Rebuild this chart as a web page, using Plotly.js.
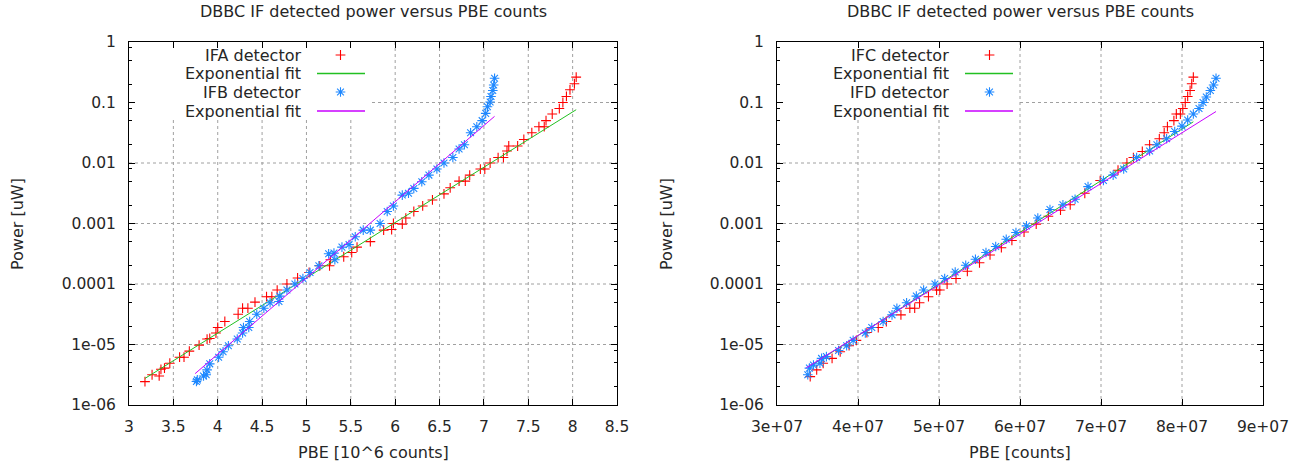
<!DOCTYPE html>
<html><head><meta charset="utf-8">
<script src="https://cdn.plot.ly/plotly-3.0.1.min.js"></script>
<style>html,body{margin:0;padding:0;background:#fff}#chart{width:1306px;height:466px}</style>
</head><body><div id="chart"></div>
<script>
// ---------- data (left plot: PBE in 10^6 counts) ----------
const ifaX = [3.18,3.26,3.34,3.36,3.40,3.46,3.57,3.62,3.68,3.79,3.88,3.91,3.98,4.00,4.08,4.23,4.28,4.34,4.42,4.55,4.61,4.67,4.78,4.90,5.03,5.15,5.26,5.27,5.42,5.51,5.57,5.72,5.87,5.96,5.98,6.08,6.12,6.21,6.31,6.42,6.55,6.62,6.72,6.79,6.84,6.96,7.01,7.07,7.16,7.22,7.26,7.28,7.38,7.45,7.54,7.62,7.68,7.70,7.77,7.85,7.89,7.93,7.97,8.02,8.04];
const ifaY = [2.43e-6,3.16e-6,3.02e-6,3.89e-6,4.07e-6,4.90e-6,6.17e-6,6.17e-6,7.76e-6,9.77e-6,1.23e-5,1.26e-5,1.55e-5,1.91e-5,2.40e-5,3.16e-5,3.98e-5,3.98e-5,5.01e-5,6.17e-5,6.17e-5,7.94e-5,1.0e-4,1.26e-4,1.55e-4,2.0e-4,2.0e-4,2.51e-4,2.82e-4,3.31e-4,4.07e-4,5.01e-4,7.76e-4,7.94e-4,1.0e-3,9.77e-4,1.23e-3,1.58e-3,1.95e-3,2.45e-3,3.09e-3,3.89e-3,5.01e-3,5.01e-3,6.31e-3,7.94e-3,7.94e-3,0.01,0.0123,0.0123,0.0158,0.0191,0.0191,0.0245,0.0316,0.0398,0.0398,0.0501,0.0646,0.0794,0.1,0.126,0.162,0.204,0.263];
const ifaFitX = [3.18, 8.04];
const ifaFitY = [2.75e-6, 0.076];

const ifbX = [3.76,3.77,3.84,3.87,3.88,3.91,4.01,4.06,4.12,4.22,4.28,4.29,4.35,4.36,4.44,4.52,4.59,4.69,4.70,4.78,4.87,4.96,5.04,5.14,5.25,5.32,5.31,5.40,5.48,5.55,5.64,5.72,5.83,5.91,5.98,6.08,6.15,6.21,6.30,6.38,6.47,6.55,6.65,6.72,6.78,6.85,6.92,6.98,7.02,7.04,7.07,7.08,7.10,7.11,7.12];
const ifbY = [2.45e-6,2.6e-6,3.02e-6,3.16e-6,3.80e-6,4.79e-6,6.17e-6,7.59e-6,9.55e-6,1.23e-5,1.55e-5,1.91e-5,1.91e-5,2.40e-5,3.16e-5,3.98e-5,4.90e-5,5.13e-5,6.31e-5,7.94e-5,1.0e-4,1.23e-4,1.55e-4,2.0e-4,3.16e-4,2.51e-4,3.24e-4,4.07e-4,4.47e-4,6.03e-4,7.76e-4,7.76e-4,1.0e-3,1.58e-3,1.95e-3,2.95e-3,3.16e-3,3.80e-3,4.90e-3,6.31e-3,7.94e-3,0.01,0.0123,0.0170,0.0200,0.0316,0.0398,0.0501,0.0661,0.0851,0.102,0.126,0.158,0.195,0.251];
const ifbFitX = [3.745, 7.12];
const ifbFitY = [3.3e-6, 0.059];

// ---------- data (right plot: PBE in counts) ----------
const ifcX = [3.41e7,3.49e7,3.57e7,3.68e7,3.78e7,3.89e7,3.98e7,4.11e7,4.25e7,4.35e7,4.53e7,4.64e7,4.70e7,4.76e7,4.87e7,4.97e7,5.01e7,5.10e7,5.21e7,5.35e7,5.50e7,5.63e7,5.77e7,5.90e7,6.05e7,6.20e7,6.35e7,6.50e7,6.62e7,6.80e7,6.99e7,7.21e7,7.32e7,7.40e7,7.51e7,7.60e7,7.72e7,7.78e7,7.82e7,7.90e7,7.93e7,7.98e7,8.01e7,8.04e7,8.07e7,8.10e7,8.12e7,8.14e7];
const ifcY = [2.95e-6,3.80e-6,4.90e-6,5.89e-6,7.59e-6,9.55e-6,1.17e-5,1.58e-5,1.91e-5,2.40e-5,3.09e-5,3.98e-5,3.98e-5,4.90e-5,6.17e-5,7.94e-5,7.94e-5,1.0e-4,1.23e-4,1.62e-4,2.24e-4,3.02e-4,3.98e-4,5.25e-4,7.24e-4,9.77e-4,1.32e-3,1.66e-3,2.04e-3,3.16e-3,5.13e-3,7.59e-3,0.01,0.0123,0.0155,0.0200,0.0251,0.0316,0.0398,0.0501,0.0646,0.0646,0.0794,0.1,0.126,0.158,0.204,0.263];
const ifcFitX = [3.41e7, 8.14e7];
const ifcFitY = [4.4e-6, 0.048];

const ifdX = [3.38e7,3.40e7,3.45e7,3.53e7,3.55e7,3.61e7,3.76e7,3.86e7,3.94e7,4.09e7,4.17e7,4.31e7,4.42e7,4.48e7,4.60e7,4.72e7,4.81e7,4.95e7,5.07e7,5.20e7,5.33e7,5.45e7,5.58e7,5.70e7,5.83e7,5.95e7,6.08e7,6.22e7,6.37e7,6.53e7,6.68e7,6.84e7,7.03e7,7.15e7,7.28e7,7.44e7,7.60e7,7.69e7,7.81e7,7.91e7,8.00e7,8.07e7,8.14e7,8.21e7,8.26e7,8.30e7,8.35e7,8.39e7,8.42e7];
const ifdY = [3.16e-6,4.07e-6,4.57e-6,4.90e-6,5.89e-6,6.31e-6,7.94e-6,9.55e-6,1.17e-5,1.55e-5,1.91e-5,2.40e-5,3.09e-5,3.98e-5,4.90e-5,6.31e-5,7.94e-5,1.0e-4,1.23e-4,1.58e-4,2.04e-4,2.57e-4,3.31e-4,4.17e-4,5.50e-4,7.08e-4,9.12e-4,1.23e-3,1.70e-3,2.04e-3,2.51e-3,4.07e-3,5.13e-3,6.31e-3,7.94e-3,0.0123,0.0158,0.0200,0.0251,0.0331,0.0407,0.0513,0.0646,0.0794,0.1,0.123,0.158,0.195,0.251];
const ifdFitX = [3.36e7, 8.42e7];
const ifdFitY = [4.1e-6, 0.071];

// ---------- ticks & labels ----------
const yTickVals = [1e-6,1e-5,1e-4,1e-3,1e-2,1e-1,1];
const yTickText = ['1e-06','1e-05','0.0001','0.001','0.01','0.1','1'];
const yMinorVals = [2e-6,5e-6,8e-6,2e-5,5e-5,8e-5,2e-4,5e-4,8e-4,2e-3,5e-3,8e-3,2e-2,5e-2,8e-2,0.2,0.5,0.8];
const xLeftTickVals = [3,3.5,4,4.5,5,5.5,6,6.5,7,7.5,8,8.5];
const xLeftTickText = ['3','3.5','4','4.5','5','5.5','6','6.5','7','7.5','8','8.5'];
const xRightTickVals = [3e7,4e7,5e7,6e7,7e7,8e7,9e7];
const xRightTickText = ['3e+07','4e+07','5e+07','6e+07','7e+07','8e+07','9e+07'];
const leftLegend = ['IFA detector','Exponential fit','IFB detector','Exponential fit'];
const rightLegend = ['IFC detector','Exponential fit','IFD detector','Exponential fit'];
const plotTitle = 'DBBC IF detected power versus PBE counts';
const yTitle = 'Power [uW]';
const xTitleLeft = 'PBE [10^6 counts]';
const xTitleRight = 'PBE [counts]';

// ---------- styling ----------
const W = 1306, H = 466;
const FONT = 'DejaVu Sans';
const TXT = '#262626';
const RED = '#ff0000', GREEN = '#22c022', BLUE = '#1e88ff', MAGENTA = '#c800ff';
const GRID = '#a0a0a0';
const px = v => v / W, py = v => 1 - v / H;
const TOP = 42, BOT = 405;

const plusM = {symbol:'cross-thin-open', size:7, color:RED, line:{color:RED, width:1.1}};
const starM = {symbol:'asterisk-open', size:8, color:BLUE, line:{color:BLUE, width:1.1}};

const traces = [
  {x:ifaX, y:ifaY, xaxis:'x', yaxis:'y', mode:'markers', marker:plusM},
  {x:ifaFitX, y:ifaFitY, xaxis:'x', yaxis:'y', mode:'lines', line:{color:GREEN, width:1}},
  {x:ifbX, y:ifbY, xaxis:'x', yaxis:'y', mode:'markers', marker:starM},
  {x:ifbFitX, y:ifbFitY, xaxis:'x', yaxis:'y', mode:'lines', line:{color:MAGENTA, width:1}},
  {x:ifcX, y:ifcY, xaxis:'x2', yaxis:'y2', mode:'markers', marker:plusM},
  {x:ifcFitX, y:ifcFitY, xaxis:'x2', yaxis:'y2', mode:'lines', line:{color:GREEN, width:1}},
  {x:ifdX, y:ifdY, xaxis:'x2', yaxis:'y2', mode:'markers', marker:starM},
  {x:ifdFitX, y:ifdFitY, xaxis:'x2', yaxis:'y2', mode:'lines', line:{color:MAGENTA, width:1}},
  // legend samples (pixel-coordinate overlay)
  {x:[340.5, 989.5], y:[55, 55], xaxis:'x3', yaxis:'y3', mode:'markers', marker:plusM, hoverinfo:'skip'},
  {x:[317, 365], y:[73.5, 73.5], xaxis:'x3', yaxis:'y3', mode:'lines', line:{color:GREEN, width:1.3}, hoverinfo:'skip'},
  {x:[965, 1013], y:[73.5, 73.5], xaxis:'x3', yaxis:'y3', mode:'lines', line:{color:GREEN, width:1.3}, hoverinfo:'skip'},
  {x:[340.5, 989.5], y:[92, 92], xaxis:'x3', yaxis:'y3', mode:'markers', marker:starM, hoverinfo:'skip'},
  {x:[317, 365], y:[111, 111], xaxis:'x3', yaxis:'y3', mode:'lines', line:{color:MAGENTA, width:1.3}, hoverinfo:'skip'},
  {x:[965, 1013], y:[111, 111], xaxis:'x3', yaxis:'y3', mode:'lines', line:{color:MAGENTA, width:1.3}, hoverinfo:'skip'}
];

const axBase = {
  showline:true, linecolor:'#000', linewidth:1, mirror:'ticks',
  ticks:'inside', ticklen:6, tickcolor:'#000', tickwidth:1,
  showgrid:false, zeroline:false, fixedrange:true,
  tickfont:{family:FONT, size:15.5, color:TXT}
};
const yBase = Object.assign({}, axBase, {
  type:'log', range:[-6,0], tickmode:'array', tickvals:yTickVals, ticktext:yTickText,
  ticklabelstandoff:9,
  minor:{tickmode:'array', tickvals:yMinorVals, ticks:'inside', ticklen:3, tickcolor:'#000', showgrid:false},
  domain:[py(BOT), py(TOP)]
});

// legend boxes (pixel) hide grid underneath, like the original
const legendBoxes = [
  {xa:'x', l:129, r:617, x0:135, x1:372, y1:118, xMin:3, xMax:8.5},
  {xa:'x2', l:777, r:1263, x0:792, x1:1020, y1:120, xMin:3e7, xMax:9e7}
];

const shapes = [];
function vGrid(box, vals) {
  vals.forEach(v => {
    if (v <= box.xMin || v >= box.xMax) return;
    const p = box.l + (v - box.xMin) / (box.xMax - box.xMin) * (box.r - box.l);
    const topPx = (p > box.x0 && p < box.x1) ? box.y1 : TOP;
    shapes.push({type:'line', layer:'below', xref:box.xa, yref:'paper', x0:v, x1:v, y0:py(BOT), y1:py(topPx), line:{color:GRID, width:1, dash:'dot'}});
  });
}
function hGrid(box, ya, vals) {
  vals.forEach(v => {
    if (v <= 1e-6 || v >= 1) return;
    const p = TOP + (0 - Math.log10(v)) / 6 * (BOT - TOP);
    const leftPx = (p < box.y1) ? box.x1 : box.l;
    shapes.push({type:'line', layer:'below', xref:'paper', yref:ya, x0:px(leftPx), x1:px(box.r), y0:v, y1:v, line:{color:GRID, width:1, dash:'dot'}});
  });
}
vGrid(legendBoxes[0], xLeftTickVals);
vGrid(legendBoxes[1], xRightTickVals);
hGrid(legendBoxes[0], 'y', yTickVals);
hGrid(legendBoxes[1], 'y2', yTickVals);

const layout = {
  width:W, height:H, margin:{l:0, r:0, t:0, b:0},
  paper_bgcolor:'#fff', plot_bgcolor:'rgba(0,0,0,0)', showlegend:false,
  font:{family:FONT, color:TXT},
  xaxis: Object.assign({}, axBase, {domain:[px(129), px(617)], range:[3,8.5], tickmode:'array', tickvals:xLeftTickVals, ticktext:xLeftTickText, anchor:'y', ticklabelstandoff:7}),
  yaxis: Object.assign({}, yBase, {anchor:'x'}),
  xaxis2: Object.assign({}, axBase, {domain:[px(777), px(1263)], range:[3e7,9e7], tickmode:'array', tickvals:xRightTickVals, ticktext:xRightTickText, anchor:'y2', ticklabelstandoff:7}),
  yaxis2: Object.assign({}, yBase, {anchor:'x2'}),
  xaxis3: {domain:[0,1], range:[0,W], visible:false, fixedrange:true, anchor:'y3'},
  yaxis3: {domain:[0,1], range:[H,0], visible:false, fixedrange:true, anchor:'x3'},
  shapes: shapes,
  annotations: []
};

const ann = (text, x, y, opts) => Object.assign({
  text, x:px(x), y:py(y), xref:'paper', yref:'paper', showarrow:false,
  xanchor:'center', yanchor:'middle', font:{family:FONT, size:16, color:TXT}
}, opts || {});

layout.annotations.push(ann(plotTitle, 373, 12));
layout.annotations.push(ann(plotTitle, 1020, 12));
layout.annotations.push(ann(yTitle, 18, 224, {textangle:-90}));
layout.annotations.push(ann(yTitle, 667, 224, {textangle:-90}));
layout.annotations.push(ann(xTitleLeft, 373, 452));
layout.annotations.push(ann(xTitleRight, 1020, 452));
const rows = [55, 73.5, 92, 111];
leftLegend.forEach((t, i) => layout.annotations.push(ann(t, 303, rows[i], {xanchor:'right'})));
rightLegend.forEach((t, i) => layout.annotations.push(ann(t, 951, rows[i], {xanchor:'right'})));

Plotly.newPlot('chart', traces, layout, {staticPlot:true, displayModeBar:false});
</script>
</body></html>
